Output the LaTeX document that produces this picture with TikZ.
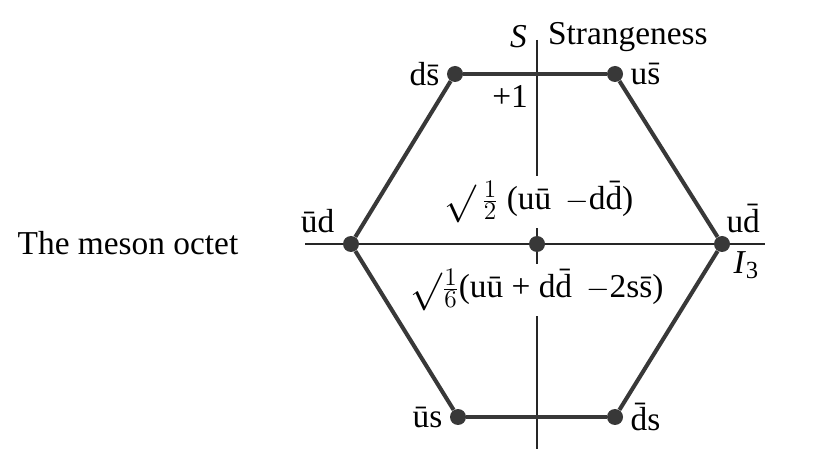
\documentclass[tikz,border=0pt]{standalone}
\usepackage{fontspec}
\setmainfont{Liberation Serif}
\usetikzlibrary{positioning}

\begin{document}
\begin{tikzpicture}[x=0.02cm, y=-0.02cm]
        % Styles
        \tikzstyle{meson} = [circle, fill=black!78, inner sep=0pt, minimum size=0.32cm]
        \tikzstyle{edge} = [draw, line width=2.3pt, black!78]
        \tikzstyle{axis} = [draw, line width=1pt, black!85]
        \tikzstyle{lbl} = [font=\fontsize{19}{22}\selectfont, inner sep=1pt]
        \tikzstyle{combo} = [lbl, fill=white, inner sep=3pt]
        \newcommand{\bigsurd}{\raisebox{-0.12em}{\scalebox{1.25}{$\surd$}}}

        \useasboundingbox[fill=white] (0,0) rectangle (825,469);

        % Axes
        \coordinate (stop) at (537,40);
        \coordinate (sbot) at (537,449);
        \coordinate (ileft) at (305,244);
        \coordinate (iright) at (765,244);
        \path [axis] (stop) -- (sbot);
        \path [axis] (ileft) -- (iright);

        % Nodes
        \node [meson] (dsbar) at (455,74) {};
        \node [meson] (usbar) at (615,74) {};
        \node [meson] (udbar) at (722,244) {};
        \node [meson] (dbars) at (615,417) {};
        \node [meson] (ubars) at (458,417) {};
        \node [meson] (ubard) at (351,244) {};
        \node [meson] (centre) at (537,244) {};

        % Paths
        \path [edge] (dsbar) -- (usbar);
        \path [edge] (usbar) -- (udbar);
        \path [edge] (udbar) -- (dbars);
        \path [edge] (dbars) -- (ubars);
        \path [edge] (ubars) -- (ubard);
        \path [edge] (ubard) -- (dsbar);

        % Labels
        \node [lbl, left=3pt of dsbar] {d\=s};
        \node [lbl, right=3pt of usbar] {u\=s};
        \node [lbl, above right=2pt and -2pt of udbar] {u\=d};
        \node [lbl, below right=0pt and 2pt of udbar] {\textit{I}\raisebox{-0.3ex}{\fontsize{14}{16}\selectfont 3}};
        \node [lbl, above left=2pt and 5pt of ubard] {\=ud};
        \node [lbl, left=3pt of ubars] {\=us};
        \node [lbl, right=3pt of dbars] {\=ds};
        \node [lbl, anchor=east] (sname) at (529,37) {\textit{S}};
        \node [lbl, anchor=west] (strange) at (546,37) {Strangeness};
        \node [lbl, anchor=east] (plusone) at (530,96) {+1};
        \node [combo] (pion) at (539,202) {\bigsurd\,$\frac{1}{2}$ (u\=u \,$-$d\=d)};
        \node [combo] (eta) at (537,290) {\bigsurd$\frac{1}{6}$(u\=u + d\=d \,$-$2s\=s)};
        \node [lbl] (title) at (128,243) {The meson octet};
\end{tikzpicture}
\end{document}
